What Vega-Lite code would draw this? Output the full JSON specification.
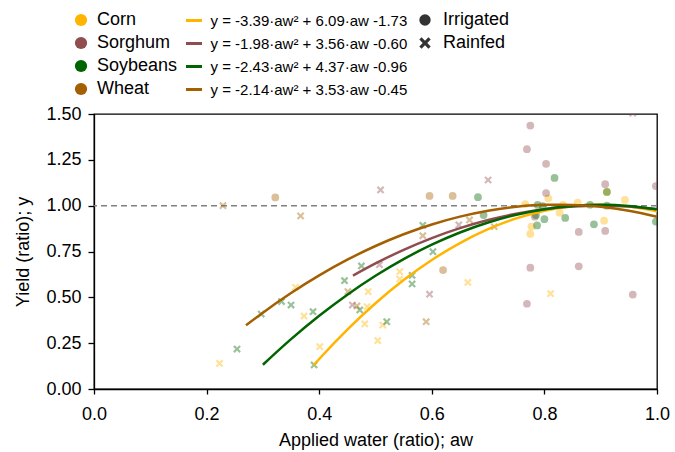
{
  "$schema": "https://vega.github.io/schema/vega-lite/v6.json",
  "width": 563,
  "height": 275,
  "autosize": {"type": "none"},
  "padding": {"left": 94, "top": 114, "right": 18, "bottom": 63},
  "background": "white",
  "config": {
    "font": "Liberation Sans",
    "view": {"stroke": "#000000", "strokeWidth": 1.3},
    "axis": {
      "grid": false,
      "labelFlush": false,
      "domainColor": "#000000",
      "domainWidth": 1.3,
      "tickColor": "#000000",
      "tickWidth": 1.3,
      "labelColor": "#000000",
      "titleColor": "#000000",
      "labelFontSize": 18,
      "titleFontSize": 18,
      "titleFontWeight": "normal",
      "labelFont": "Liberation Sans",
      "titleFont": "Liberation Sans"
    },
    "legend": {
      "labelFont": "Liberation Sans",
      "labelFontSize": 18,
      "labelColor": "#000000",
      "padding": 0,
      "rowPadding": 5,
      "labelLimit": 400
    }
  },
  "datasets": {
    "pts": [
      {"aw": 0.766, "y": 1.009, "crop": "Corn", "type": "Irrigated"},
      {"aw": 0.807, "y": 1.040, "crop": "Corn", "type": "Irrigated"},
      {"aw": 0.859, "y": 1.016, "crop": "Corn", "type": "Irrigated"},
      {"aw": 0.943, "y": 1.031, "crop": "Corn", "type": "Irrigated"},
      {"aw": 0.833, "y": 1.004, "crop": "Corn", "type": "Irrigated"},
      {"aw": 0.827, "y": 0.962, "crop": "Corn", "type": "Irrigated"},
      {"aw": 0.777, "y": 0.886, "crop": "Corn", "type": "Irrigated"},
      {"aw": 0.775, "y": 0.846, "crop": "Corn", "type": "Irrigated"},
      {"aw": 0.906, "y": 0.918, "crop": "Corn", "type": "Irrigated"},
      {"aw": 0.911, "y": 1.075, "crop": "Corn", "type": "Irrigated"},
      {"aw": 0.223, "y": 0.140, "crop": "Corn", "type": "Rainfed"},
      {"aw": 0.401, "y": 0.231, "crop": "Corn", "type": "Rainfed"},
      {"aw": 0.373, "y": 0.398, "crop": "Corn", "type": "Rainfed"},
      {"aw": 0.358, "y": 0.555, "crop": "Corn", "type": "Rainfed"},
      {"aw": 0.481, "y": 0.355, "crop": "Corn", "type": "Rainfed"},
      {"aw": 0.487, "y": 0.531, "crop": "Corn", "type": "Rainfed"},
      {"aw": 0.485, "y": 0.449, "crop": "Corn", "type": "Rainfed"},
      {"aw": 0.513, "y": 0.349, "crop": "Corn", "type": "Rainfed"},
      {"aw": 0.504, "y": 0.264, "crop": "Corn", "type": "Rainfed"},
      {"aw": 0.543, "y": 0.640, "crop": "Corn", "type": "Rainfed"},
      {"aw": 0.543, "y": 0.600, "crop": "Corn", "type": "Rainfed"},
      {"aw": 0.664, "y": 0.581, "crop": "Corn", "type": "Rainfed"},
      {"aw": 0.811, "y": 0.520, "crop": "Corn", "type": "Rainfed"},
      {"aw": 0.775, "y": 1.437, "crop": "Sorghum", "type": "Irrigated"},
      {"aw": 0.769, "y": 1.308, "crop": "Sorghum", "type": "Irrigated"},
      {"aw": 0.803, "y": 1.228, "crop": "Sorghum", "type": "Irrigated"},
      {"aw": 0.908, "y": 1.117, "crop": "Sorghum", "type": "Irrigated"},
      {"aw": 0.803, "y": 1.069, "crop": "Sorghum", "type": "Irrigated"},
      {"aw": 0.998, "y": 1.107, "crop": "Sorghum", "type": "Irrigated"},
      {"aw": 0.861, "y": 0.857, "crop": "Sorghum", "type": "Irrigated"},
      {"aw": 0.908, "y": 0.862, "crop": "Sorghum", "type": "Irrigated"},
      {"aw": 0.775, "y": 0.662, "crop": "Sorghum", "type": "Irrigated"},
      {"aw": 0.861, "y": 0.669, "crop": "Sorghum", "type": "Irrigated"},
      {"aw": 0.769, "y": 0.465, "crop": "Sorghum", "type": "Irrigated"},
      {"aw": 0.957, "y": 0.515, "crop": "Sorghum", "type": "Irrigated"},
      {"aw": 0.783, "y": 0.940, "crop": "Sorghum", "type": "Irrigated"},
      {"aw": 0.509, "y": 1.086, "crop": "Sorghum", "type": "Rainfed"},
      {"aw": 0.700, "y": 1.140, "crop": "Sorghum", "type": "Rainfed"},
      {"aw": 0.648, "y": 0.895, "crop": "Sorghum", "type": "Rainfed"},
      {"aw": 0.507, "y": 0.678, "crop": "Sorghum", "type": "Rainfed"},
      {"aw": 0.596, "y": 0.517, "crop": "Sorghum", "type": "Rainfed"},
      {"aw": 0.459, "y": 0.458, "crop": "Sorghum", "type": "Rainfed"},
      {"aw": 0.957, "y": 1.505, "crop": "Sorghum", "type": "Rainfed"},
      {"aw": 0.682, "y": 1.046, "crop": "Soybeans", "type": "Irrigated"},
      {"aw": 0.818, "y": 1.151, "crop": "Soybeans", "type": "Irrigated"},
      {"aw": 0.911, "y": 1.075, "crop": "Soybeans", "type": "Irrigated"},
      {"aw": 0.881, "y": 1.005, "crop": "Soybeans", "type": "Irrigated"},
      {"aw": 0.788, "y": 1.004, "crop": "Soybeans", "type": "Irrigated"},
      {"aw": 0.797, "y": 0.998, "crop": "Soybeans", "type": "Irrigated"},
      {"aw": 0.911, "y": 1.000, "crop": "Soybeans", "type": "Irrigated"},
      {"aw": 0.837, "y": 0.933, "crop": "Soybeans", "type": "Irrigated"},
      {"aw": 0.800, "y": 0.926, "crop": "Soybeans", "type": "Irrigated"},
      {"aw": 0.785, "y": 0.949, "crop": "Soybeans", "type": "Irrigated"},
      {"aw": 0.787, "y": 0.892, "crop": "Soybeans", "type": "Irrigated"},
      {"aw": 0.888, "y": 0.898, "crop": "Soybeans", "type": "Irrigated"},
      {"aw": 0.998, "y": 0.913, "crop": "Soybeans", "type": "Irrigated"},
      {"aw": 0.692, "y": 0.949, "crop": "Soybeans", "type": "Irrigated"},
      {"aw": 0.254, "y": 0.218, "crop": "Soybeans", "type": "Rainfed"},
      {"aw": 0.297, "y": 0.409, "crop": "Soybeans", "type": "Rainfed"},
      {"aw": 0.333, "y": 0.477, "crop": "Soybeans", "type": "Rainfed"},
      {"aw": 0.350, "y": 0.458, "crop": "Soybeans", "type": "Rainfed"},
      {"aw": 0.389, "y": 0.422, "crop": "Soybeans", "type": "Rainfed"},
      {"aw": 0.391, "y": 0.131, "crop": "Soybeans", "type": "Rainfed"},
      {"aw": 0.445, "y": 0.591, "crop": "Soybeans", "type": "Rainfed"},
      {"aw": 0.472, "y": 0.431, "crop": "Soybeans", "type": "Rainfed"},
      {"aw": 0.475, "y": 0.671, "crop": "Soybeans", "type": "Rainfed"},
      {"aw": 0.520, "y": 0.367, "crop": "Soybeans", "type": "Rainfed"},
      {"aw": 0.565, "y": 0.620, "crop": "Soybeans", "type": "Rainfed"},
      {"aw": 0.565, "y": 0.573, "crop": "Soybeans", "type": "Rainfed"},
      {"aw": 0.584, "y": 0.893, "crop": "Soybeans", "type": "Rainfed"},
      {"aw": 0.602, "y": 0.749, "crop": "Soybeans", "type": "Rainfed"},
      {"aw": 0.322, "y": 1.045, "crop": "Wheat", "type": "Irrigated"},
      {"aw": 0.596, "y": 1.053, "crop": "Wheat", "type": "Irrigated"},
      {"aw": 0.637, "y": 1.053, "crop": "Wheat", "type": "Irrigated"},
      {"aw": 0.620, "y": 0.649, "crop": "Wheat", "type": "Irrigated"},
      {"aw": 0.229, "y": 1.000, "crop": "Wheat", "type": "Rainfed"},
      {"aw": 0.367, "y": 0.944, "crop": "Wheat", "type": "Rainfed"},
      {"aw": 0.584, "y": 0.836, "crop": "Wheat", "type": "Rainfed"},
      {"aw": 0.667, "y": 0.922, "crop": "Wheat", "type": "Rainfed"},
      {"aw": 0.451, "y": 0.531, "crop": "Wheat", "type": "Rainfed"},
      {"aw": 0.467, "y": 0.453, "crop": "Wheat", "type": "Rainfed"},
      {"aw": 0.590, "y": 0.367, "crop": "Wheat", "type": "Rainfed"},
      {"aw": 0.711, "y": 0.885, "crop": "Wheat", "type": "Rainfed"}
    ],
    "fits": [
      {"aw": 0.39, "y": 0.1295, "eq": "y = -3.39·aw² + 6.09·aw -1.73"},
      {"aw": 0.40, "y": 0.1636, "eq": "y = -3.39·aw² + 6.09·aw -1.73"},
      {"aw": 0.45, "y": 0.3240, "eq": "y = -3.39·aw² + 6.09·aw -1.73"},
      {"aw": 0.50, "y": 0.4675, "eq": "y = -3.39·aw² + 6.09·aw -1.73"},
      {"aw": 0.55, "y": 0.5940, "eq": "y = -3.39·aw² + 6.09·aw -1.73"},
      {"aw": 0.60, "y": 0.7036, "eq": "y = -3.39·aw² + 6.09·aw -1.73"},
      {"aw": 0.65, "y": 0.7962, "eq": "y = -3.39·aw² + 6.09·aw -1.73"},
      {"aw": 0.70, "y": 0.8719, "eq": "y = -3.39·aw² + 6.09·aw -1.73"},
      {"aw": 0.75, "y": 0.9306, "eq": "y = -3.39·aw² + 6.09·aw -1.73"},
      {"aw": 0.80, "y": 0.9724, "eq": "y = -3.39·aw² + 6.09·aw -1.73"},
      {"aw": 0.85, "y": 0.9972, "eq": "y = -3.39·aw² + 6.09·aw -1.73"},
      {"aw": 0.90, "y": 1.0051, "eq": "y = -3.39·aw² + 6.09·aw -1.73"},
      {"aw": 0.95, "y": 0.9960, "eq": "y = -3.39·aw² + 6.09·aw -1.73"},
      {"aw": 1.00, "y": 0.9700, "eq": "y = -3.39·aw² + 6.09·aw -1.73"},
      {"aw": 0.46, "y": 0.6186, "eq": "y = -1.98·aw² + 3.56·aw -0.60"},
      {"aw": 0.50, "y": 0.6850, "eq": "y = -1.98·aw² + 3.56·aw -0.60"},
      {"aw": 0.55, "y": 0.7590, "eq": "y = -1.98·aw² + 3.56·aw -0.60"},
      {"aw": 0.60, "y": 0.8232, "eq": "y = -1.98·aw² + 3.56·aw -0.60"},
      {"aw": 0.65, "y": 0.8774, "eq": "y = -1.98·aw² + 3.56·aw -0.60"},
      {"aw": 0.70, "y": 0.9218, "eq": "y = -1.98·aw² + 3.56·aw -0.60"},
      {"aw": 0.75, "y": 0.9562, "eq": "y = -1.98·aw² + 3.56·aw -0.60"},
      {"aw": 0.80, "y": 0.9808, "eq": "y = -1.98·aw² + 3.56·aw -0.60"},
      {"aw": 0.85, "y": 0.9954, "eq": "y = -1.98·aw² + 3.56·aw -0.60"},
      {"aw": 0.90, "y": 1.0002, "eq": "y = -1.98·aw² + 3.56·aw -0.60"},
      {"aw": 0.95, "y": 0.9950, "eq": "y = -1.98·aw² + 3.56·aw -0.60"},
      {"aw": 1.00, "y": 0.9800, "eq": "y = -1.98·aw² + 3.56·aw -0.60"},
      {"aw": 0.30, "y": 0.1323, "eq": "y = -2.43·aw² + 4.37·aw -0.96"},
      {"aw": 0.35, "y": 0.2718, "eq": "y = -2.43·aw² + 4.37·aw -0.96"},
      {"aw": 0.40, "y": 0.3992, "eq": "y = -2.43·aw² + 4.37·aw -0.96"},
      {"aw": 0.45, "y": 0.5144, "eq": "y = -2.43·aw² + 4.37·aw -0.96"},
      {"aw": 0.50, "y": 0.6175, "eq": "y = -2.43·aw² + 4.37·aw -0.96"},
      {"aw": 0.55, "y": 0.7084, "eq": "y = -2.43·aw² + 4.37·aw -0.96"},
      {"aw": 0.60, "y": 0.7872, "eq": "y = -2.43·aw² + 4.37·aw -0.96"},
      {"aw": 0.65, "y": 0.8538, "eq": "y = -2.43·aw² + 4.37·aw -0.96"},
      {"aw": 0.70, "y": 0.9083, "eq": "y = -2.43·aw² + 4.37·aw -0.96"},
      {"aw": 0.75, "y": 0.9506, "eq": "y = -2.43·aw² + 4.37·aw -0.96"},
      {"aw": 0.80, "y": 0.9808, "eq": "y = -2.43·aw² + 4.37·aw -0.96"},
      {"aw": 0.85, "y": 0.9988, "eq": "y = -2.43·aw² + 4.37·aw -0.96"},
      {"aw": 0.90, "y": 1.0047, "eq": "y = -2.43·aw² + 4.37·aw -0.96"},
      {"aw": 0.95, "y": 0.9984, "eq": "y = -2.43·aw² + 4.37·aw -0.96"},
      {"aw": 1.00, "y": 0.9800, "eq": "y = -2.43·aw² + 4.37·aw -0.96"},
      {"aw": 0.27, "y": 0.3471, "eq": "y = -2.14·aw² + 3.53·aw -0.45"},
      {"aw": 0.30, "y": 0.4164, "eq": "y = -2.14·aw² + 3.53·aw -0.45"},
      {"aw": 0.35, "y": 0.5233, "eq": "y = -2.14·aw² + 3.53·aw -0.45"},
      {"aw": 0.40, "y": 0.6196, "eq": "y = -2.14·aw² + 3.53·aw -0.45"},
      {"aw": 0.45, "y": 0.7051, "eq": "y = -2.14·aw² + 3.53·aw -0.45"},
      {"aw": 0.50, "y": 0.7800, "eq": "y = -2.14·aw² + 3.53·aw -0.45"},
      {"aw": 0.55, "y": 0.8441, "eq": "y = -2.14·aw² + 3.53·aw -0.45"},
      {"aw": 0.60, "y": 0.8976, "eq": "y = -2.14·aw² + 3.53·aw -0.45"},
      {"aw": 0.65, "y": 0.9403, "eq": "y = -2.14·aw² + 3.53·aw -0.45"},
      {"aw": 0.70, "y": 0.9724, "eq": "y = -2.14·aw² + 3.53·aw -0.45"},
      {"aw": 0.75, "y": 0.9937, "eq": "y = -2.14·aw² + 3.53·aw -0.45"},
      {"aw": 0.80, "y": 1.0044, "eq": "y = -2.14·aw² + 3.53·aw -0.45"},
      {"aw": 0.85, "y": 1.0043, "eq": "y = -2.14·aw² + 3.53·aw -0.45"},
      {"aw": 0.90, "y": 0.9936, "eq": "y = -2.14·aw² + 3.53·aw -0.45"},
      {"aw": 0.95, "y": 0.9721, "eq": "y = -2.14·aw² + 3.53·aw -0.45"},
      {"aw": 1.00, "y": 0.9400, "eq": "y = -2.14·aw² + 3.53·aw -0.45"}
    ]
  },
  "layer": [
    {
      "data": {"values": [{"ref": 1}]},
      "mark": {"type": "rule", "color": "#808080", "strokeWidth": 1.5, "strokeDash": [6, 4]},
      "encoding": {
        "y": {"field": "ref", "type": "quantitative", "scale": {"domain": [0, 1.5]}}
      }
    },
    {
      "data": {"name": "pts"},
      "mark": {"type": "point", "filled": true, "size": 60, "opacity": 0.4, "clip": true, "strokeWidth": 0},
      "encoding": {
        "x": {
          "field": "aw", "type": "quantitative",
          "scale": {"domain": [0, 1], "nice": false, "zero": false, "padding": 0},
          "axis": {"title": "Applied water (ratio); aw", "values": [0, 0.2, 0.4, 0.6, 0.8, 1.0], "format": ".1f", "tickSize": 5, "labelPadding": 11, "titlePadding": 8, "labelFlush": false}
        },
        "y": {
          "field": "y", "type": "quantitative",
          "scale": {"domain": [0, 1.5], "nice": false, "padding": 0},
          "axis": {"title": "Yield (ratio); y", "values": [0, 0.25, 0.5, 0.75, 1.0, 1.25, 1.5], "format": ".2f", "tickSize": 6, "labelPadding": 7, "titlePadding": 13, "labelFlush": false}
        },
        "fill": {
          "field": "crop", "type": "nominal",
          "scale": {"domain": ["Corn", "Sorghum", "Soybeans", "Wheat"], "range": ["#FFB400", "#914C4F", "#006400", "#A35F00"]},
          "legend": {"title": null, "orient": "none", "legendX": -22, "legendY": -103, "direction": "vertical", "symbolType": "circle", "symbolSize": 150, "symbolOpacity": 1, "symbolStrokeWidth": 0, "labelOffset": 7}
        },
        "shape": {
          "field": "type", "type": "nominal",
          "scale": {"domain": ["Irrigated", "Rainfed"], "range": ["circle", "M-0.6,-1L0,-0.4L0.6,-1L1,-0.6L0.4,0L1,0.6L0.6,1L0,0.4L-0.6,1L-1,0.6L-0.4,0L-1,-0.6Z"]},
          "legend": {"title": null, "orient": "none", "legendX": 322, "legendY": -103, "direction": "vertical", "symbolSize": 130, "symbolOpacity": 1, "symbolFillColor": "#333333", "symbolStrokeWidth": 0, "labelOffset": 9}
        }
      }
    },
    {
      "data": {"name": "fits"},
      "mark": {"type": "line", "strokeWidth": 2.5, "interpolate": "monotone"},
      "encoding": {
        "x": {"field": "aw", "type": "quantitative"},
        "y": {"field": "y", "type": "quantitative"},
        "stroke": {
          "field": "eq", "type": "nominal",
          "scale": {
            "domain": ["y = -3.39·aw² + 6.09·aw -1.73", "y = -1.98·aw² + 3.56·aw -0.60", "y = -2.43·aw² + 4.37·aw -0.96", "y = -2.14·aw² + 3.53·aw -0.45"],
            "range": ["#FFB400", "#914C4F", "#006400", "#A35F00"]
          },
          "legend": {"title": null, "orient": "none", "legendX": 90.5, "legendY": -103, "direction": "vertical", "symbolType": "stroke", "symbolSize": 256, "symbolStrokeWidth": 3, "labelOffset": 7, "labelFontSize": 15}
        }
      }
    }
  ]
}
